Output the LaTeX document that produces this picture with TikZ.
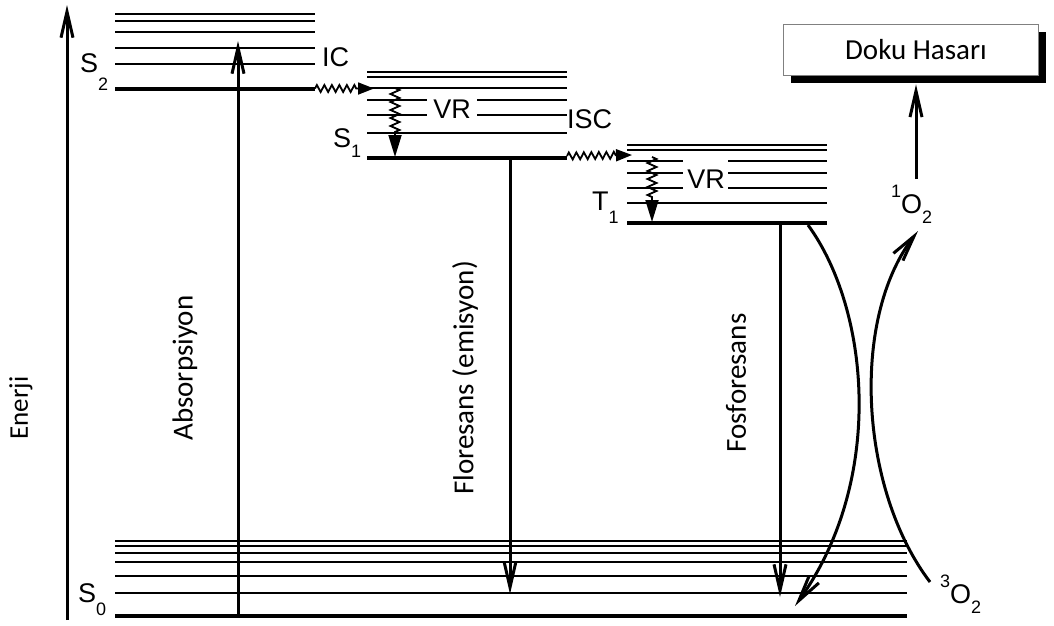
\documentclass[tikz,border=0pt]{standalone}
\usepackage{fontspec}
\setmainfont{Liberation Sans}
\newfontfamily\calfont{Carlito}
\usetikzlibrary{arrows.meta,decorations.pathmorphing,shadows}
\newcommand\lsub[2]{\raisebox{-#2}{\fontsize{18}{18}\selectfont #1}}
\newcommand\lsup[1]{\raisebox{16pt}{\fontsize{18}{18}\selectfont #1}}
\tikzset{
  lvl/.style={line width=2.2pt},
  gnd/.style={line width=4.5pt},
  bigarrow/.style={line width=3pt, -{Straight Barb[length=26pt, width=12pt]}},
  zzh/.style={line width=1.8pt, decorate, decoration={zigzag,segment length=7.5pt,amplitude=3.5pt,post=lineto,post length=16pt}, -{Triangle[length=16pt,width=12pt]}},
  zzv/.style={line width=1.8pt, decorate, decoration={zigzag,segment length=8pt,amplitude=4.5pt,post=lineto,post length=22pt}, -{Triangle[length=22pt,width=13pt]}},
  lab/.style={inner sep=0pt, font=\fontsize{27}{27}\selectfont},
  cal/.style={inner sep=0pt, font=\calfont\fontsize{29}{29}\selectfont},
  cbox/.style={draw=gray, line width=0.8pt, fill=white, minimum width=255pt, minimum height=51pt, inner sep=0pt,
     drop shadow={shadow xshift=8pt, shadow yshift=-8pt, fill=black, opacity=1}},
}
\begin{document}
\begin{tikzpicture}[x=1pt,y=-1pt]
\useasboundingbox (0,0) rectangle (1054,625);

% ---- energy axis
\coordinate (axb) at (67,620);
\coordinate (axt) at (67,5);
\draw[bigarrow] (axb) -- (axt);
\node[cal, rotate=90, font=\calfont\fontsize{27}{27}\selectfont] (enerji) at (21,408) {Enerji};

% ---- S2 levels
\foreach \yy in {14,20.7,32.3,48.3,64} \draw[lvl] (115,\yy) -- (315,\yy);
\draw[gnd] (115,89) -- (315,89);
\node[lab, anchor=base west] (S2) at (80,72) {S\lsub{2}{18pt}};

% ---- S1 levels
\foreach \yy in {72,77,88,133} \draw[lvl] (367,\yy) -- (567,\yy);
\foreach \yy in {100,115} {\draw[lvl] (367,\yy) -- (427,\yy); \draw[lvl] (477,\yy) -- (567,\yy);}
\draw[gnd] (367,158) -- (567,158);
\node[lab, anchor=base west] (S1) at (333,147) {S\lsub{1}{10pt}};
\node[lab, anchor=base] (VR1) at (452,118) {VR};

% ---- T1 levels
\foreach \yy in {145,150,203.3} \draw[lvl] (627,\yy) -- (827,\yy);
\foreach \yy in {160.7,173.3,187.7} {\draw[lvl] (627,\yy) -- (683,\yy); \draw[lvl] (728,\yy) -- (827,\yy);}
\draw[gnd] (627,223) -- (827,223);
\node[lab, anchor=base west] (T1) at (592,210) {T\lsub{1}{13pt}};
\node[lab, anchor=base] (VR2) at (706,188) {VR};

% ---- S0 levels
\foreach \yy in {541,546,553,562,576,593} \draw[lvl] (115,\yy) -- (907,\yy);
\draw[gnd] (115,616) -- (907,616);
\node[lab, anchor=base west] (S0) at (78,602) {S\lsub{0}{13pt}};

% ---- IC / ISC labels
\node[lab, anchor=base west] (IC) at (322,66) {IC};
\node[lab, anchor=base west] (ISC) at (567,128) {ISC};

% ---- wavy transitions
\coordinate (icA) at (315,88.5);
\coordinate (icB) at (374,88.5);
\draw[zzh] (icA) -- (icB);
\coordinate (vr1A) at (395,88);
\coordinate (vr1B) at (395,157);
\draw[zzv] (vr1A) -- (vr1B);
\coordinate (iscA) at (567,156);
\coordinate (iscB) at (632,155);
\draw[zzh] (iscA) -- (iscB);
\coordinate (vr2A) at (652,157);
\coordinate (vr2B) at (652,222);
\draw[zzv] (vr2A) -- (vr2B);

% ---- radiative transitions
\coordinate (absA) at (238,616);
\coordinate (absB) at (238,41);
\draw[bigarrow] (absA) -- (absB);
\node[cal, rotate=90] (absl) at (185,368) {Absorpsiyon};

\coordinate (flA) at (510,158);
\coordinate (flB) at (510,594);
\draw[bigarrow] (flA) -- (flB);
\node[cal, rotate=90] (fll) at (465,378) {Floresans (emisyon)};

\coordinate (fsA) at (780,223);
\coordinate (fsB) at (780,597);
\draw[bigarrow] (fsA) -- (fsB);
\node[cal, rotate=90] (fsl) at (736,383) {Fosforesans};

% ---- oxygen
\node[lab, anchor=base west] (O1) at (891,213) {\lsup{1}O\lsub{2}{10pt}};
\node[lab, anchor=base west] (O3) at (940,603) {\lsup{3}O\lsub{2}{10pt}};

\coordinate (t1R) at (808,225);
\coordinate (s0tip) at (795,606);
\draw[bigarrow] (t1R) .. controls (870,310) and (885,480) .. (s0tip);
\coordinate (o3s) at (930,582);
\coordinate (o1tip) at (918,231);
\draw[bigarrow] (o3s) .. controls (860,490) and (850,320) .. (o1tip);

% ---- damage box
\node[cbox] (doku) at (910.5,49.5) {};
\node[cal] (dokut) at (916,50) {Doku Hasarı};
\coordinate (o1top) at (916,179);
\coordinate (dokuB) at ([yshift=-9pt]doku.south);
\draw[bigarrow] (o1top) -- (o1top |- dokuB);
\end{tikzpicture}
\end{document}
